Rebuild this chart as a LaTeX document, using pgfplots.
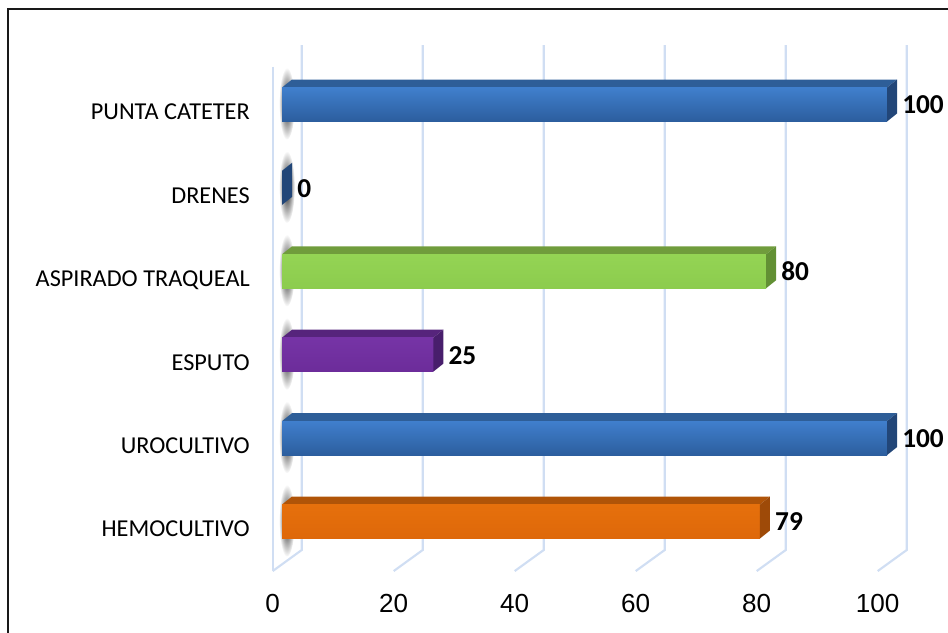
\documentclass[border=0pt]{standalone}
\usepackage{pgfplots}
\pgfplotsset{compat=1.18}
\usetikzlibrary{fadings}
\tikzfading[name=myfade, inner color=transparent!0, outer color=transparent!100]
\usepackage{fontspec}
\setmainfont{Carlito}
\newfontfamily\arialf{Liberation Sans}

\definecolor{gridc}{RGB}{208,222,243}
\definecolor{blueF1}{RGB}{64,127,205}
\definecolor{blueF2}{RGB}{44,94,158}
\definecolor{blueT}{RGB}{46,94,152}
\definecolor{blueR}{RGB}{34,70,120}
\definecolor{oraF1}{RGB}{230,112,12}
\definecolor{oraF2}{RGB}{222,104,10}
\definecolor{oraT}{RGB}{176,84,8}
\definecolor{oraR}{RGB}{158,74,8}
\definecolor{greF1}{RGB}{148,212,84}
\definecolor{greF2}{RGB}{140,204,78}
\definecolor{greT}{RGB}{112,156,60}
\definecolor{greR}{RGB}{98,144,52}
\definecolor{purF1}{RGB}{118,52,166}
\definecolor{purF2}{RGB}{108,44,154}
\definecolor{purT}{RGB}{86,36,124}
\definecolor{purR}{RGB}{72,30,108}

% #1 category position, #2 value, #3/#4 front face colours, #5 top face, #6 right face
\newcommand{\threedbar}[6]{%
  \pgfmathsetmacro\ya{#1-0.2038}%
  \pgfmathsetmacro\yb{#1+0.2038}%
  \pgfmathsetmacro\yc{#1+0.2997}%
  \pgfmathsetmacro\yd{#1-0.1079}%
  \pgfmathsetmacro\xe{#2+1.653}%
  \pgfmathsetmacro\ys{#1+0.01}%
  \edef\tmp{\noexpand\fill[black, opacity=0.9, path fading=myfade] (axis cs:0.8,\ys) ellipse [x radius=6pt, y radius=27pt];}\tmp
  \edef\tmp{\noexpand\addplot[draw=none, fill=#5, forget plot] coordinates {(0,\yb) (#2,\yb) (\xe,\yc) (1.653,\yc)} -- cycle;}\tmp
  \addplot[xbar, bar shift=0pt, bar width=25.5pt, draw=none, top color=#3, bottom color=#4, forget plot] coordinates {(#2,#1)};
  \edef\tmp{\noexpand\addplot[draw=none, fill=#6, forget plot] coordinates {(#2,\ya) (#2,\yb) (\xe,\yc) (\xe,\yd)} -- cycle;}\tmp
  \addplot[only marks, mark=none, forget plot, point meta=x,
    nodes near coords={\pgfmathprintnumber[assume math mode=true]{\pgfplotspointmeta}},
    every node near coord/.append style={anchor=base west, xshift=11.25pt, yshift=-7.1pt, inner sep=0pt,
      text=black, font=\bfseries\fontsize{20.5}{24}\selectfont}] coordinates {(#2,#1)};
}

\begin{document}
\begin{tikzpicture}
\useasboundingbox (0,0) rectangle (711pt,-474pt);
\draw[line width=1.6pt, black!90] (6pt,-480pt) -- (6pt,-6.75pt) -- (720pt,-6.75pt);
\begin{axis}[
  anchor=origin, at={(211.5pt,-391.125pt)},
  x=4.5375pt, y=62.55pt,
  xmin=-5, xmax=110, ymin=-1.091, ymax=6,
  enlargelimits=false, clip=false,
  axis line style={draw=none}, major tick length=0pt,
  xtick={0,20,40,60,80,100},
  xticklabels={0,20,40,60,80,100},
  xticklabel style={font=\arialf\fontsize{19.6}{22}\selectfont, anchor=base, xshift=-6.975pt, inner sep=0pt},
  ytick={0,1,2,3,4,5},
  yticklabels={HEMOCULTIVO,UROCULTIVO,ESPUTO,ASPIRADO TRAQUEAL,DRENES,PUNTA CATETER},
  yticklabel style={font=\fontsize{18.2}{21}\selectfont, anchor=base east, inner sep=0pt, xshift=-1.3pt, yshift=-11.6pt},
]
\pgfplotsinvokeforeach{0,20,40,60,80,100}{
  \draw[gridc, line width=1.6pt] (axis cs:{#1+3.256},5.713) -- (axis cs:{#1+3.256},-0.342) -- (axis cs:{#1-1.537},-0.594);
}
\draw[gridc, line width=1.6pt] (axis cs:-1.537,5.453) -- (axis cs:-1.537,-0.594);

\threedbar{0}{79}{oraF1}{oraF2}{oraT}{oraR}
\threedbar{1}{100}{blueF1}{blueF2}{blueT}{blueR}
\threedbar{2}{25}{purF1}{purF2}{purT}{purR}
\threedbar{3}{80}{greF1}{greF2}{greT}{greR}
\threedbar{4}{0}{blueF1}{blueF2}{blueT}{blueR}
\threedbar{5}{100}{blueF1}{blueF2}{blueT}{blueR}
\end{axis}
\end{tikzpicture}
\end{document}
